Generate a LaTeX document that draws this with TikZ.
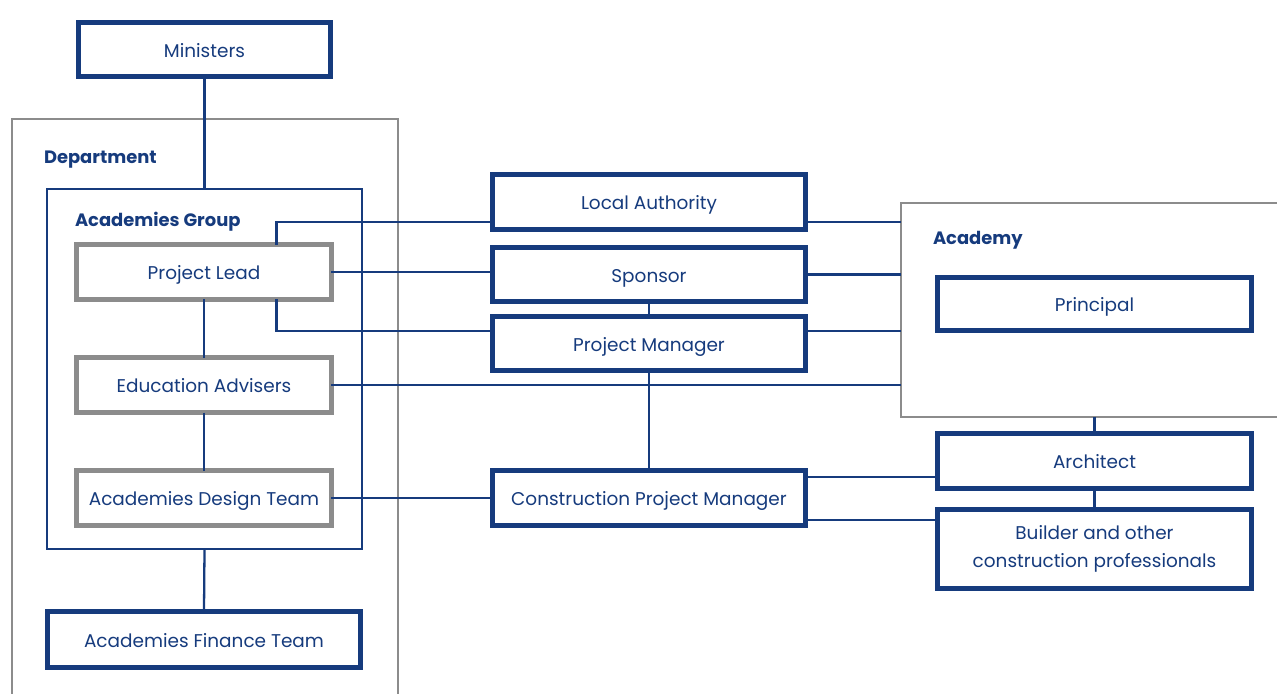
\documentclass[tikz,border=0pt]{standalone}
\usepackage{fontspec}
\setmainfont{Poppins}
\usetikzlibrary{positioning}
\definecolor{navy}{RGB}{22,59,125}
\definecolor{midgrey}{RGB}{140,140,140}

\begin{document}
\begin{tikzpicture}
    [x=0.02cm, y=-0.02cm, outer sep = 0pt, font=\fontsize{10.5}{12.5}\selectfont,
    box/.style={rectangle, draw=navy, fill=white, line width=2.8pt,
      text=navy, minimum width=6.26cm, minimum height=1.1cm, inner sep=0pt, align=center},
    role/.style={box, text height=2.1ex, text depth=.5ex},
    member/.style={role, draw=midgrey, minimum width=5.1cm},
    unit/.style={rectangle, draw=midgrey, line width=1.2pt, inner sep=0pt},
    group/.style={rectangle, draw=navy, line width=1.2pt, inner sep=0pt},
    heading/.style={anchor=west, text=navy, font=\fontsize{10.2}{12}\selectfont\bfseries, inner sep=0pt},
    link/.style={draw=navy, line width=1.3pt}]
    \useasboundingbox (0,0) rectangle (1277,693);

    % department side
    \draw [unit] (12,710) -- (12,119) -- (398,119) -- (398,710);
    \node [heading] (dept_label) at (44,160) {Department};
    \node [group, minimum width=6.3cm, minimum height=7.2cm] (grp) at (204.5,369) {};
    \node [heading] (grp_label) at (75,222) {Academies Group};
    \node [role, minimum width=5.04cm, minimum height=1.08cm] (min) at (204.5,49.5) {Ministers};
    \node [member] (lead) at (204,272) {Project Lead};
    \node [member] (edu) at (204,385) {Education Advisers};
    \node [member] (design) at (204,498) {Academies Design Team};
    \node [role, minimum height=1.12cm] (finance) at (204,639.5) {Academies Finance Team};

    % middle column
    \node [role] (la) at (649,202) {Local Authority};
    \node [role, minimum height=1.08cm] (spon) at (649,274.5) {Sponsor};
    \node [role, minimum height=1.08cm] (pm) at (649,343.5) {Project Manager};
    \node [role] (cpm) at (649,498) {Construction Project Manager};

    % academy side
    \node [unit, minimum width=7.78cm, minimum height=4.28cm] (acad) at (1095.5,310) {};
    \node [heading] (acad_label) at (933,240) {Academy};
    \node [role, minimum width=6.28cm, minimum height=1.06cm] (principal) at (1094.5,304) {Principal};
    \node [role, minimum width=6.28cm] (arch) at (1094.5,461) {Architect};
    \node [box, minimum width=6.28cm, minimum height=1.58cm, font=\fontsize{10.5}{16}\selectfont]
      (build) at (1094.5,549) {Builder and other\\construction professionals};

    \coordinate (la_r) at ([yshift=-0.4cm]la.east);
    \coordinate (pm_r) at ([yshift=0.25cm]pm.east);
    \coordinate (cpm_hi) at ([yshift=0.42cm]cpm.east);
    \coordinate (cpm_lo) at ([yshift=-0.44cm]cpm.east);

    \draw [link] (min.south) -- (grp.north);
    \draw [link] (lead.south) -- (edu.north);
    \draw [link] (edu.south) -- (design.north);
    \draw [link] (grp.south) -- (finance.north);
    \draw [link] ([xshift=-1.1cm]lead.north east) |- ([yshift=-0.4cm]la.west);
    \draw [link] (lead.east) -- (lead.east -| spon.west);
    \draw [link] ([xshift=-1.1cm]lead.south east) |- ([yshift=0.25cm]pm.west);
    \draw [link] (edu.east) -- (edu.east -| acad.west);
    \draw [link] (design.east) -- (design.east -| cpm.west);
    \draw [link] (spon.south) -- (pm.north);
    \draw [link] (pm.south) -- (cpm.north);
    \draw [link] (la_r) -- (la_r -| acad.west);
    \draw [link] (spon.east) -- (spon.east -| acad.west);
    \draw [link] (pm_r) -- (pm_r -| acad.west);
    \draw [link] (arch.north |- acad.south) -- (arch.north);
    \draw [link] (arch.south) -- (build.north);
    \draw [link] (cpm_hi) -- (cpm_hi -| arch.west);
    \draw [link] (cpm_lo) -- (cpm_lo -| build.west);
  \end{tikzpicture}
\end{document}
